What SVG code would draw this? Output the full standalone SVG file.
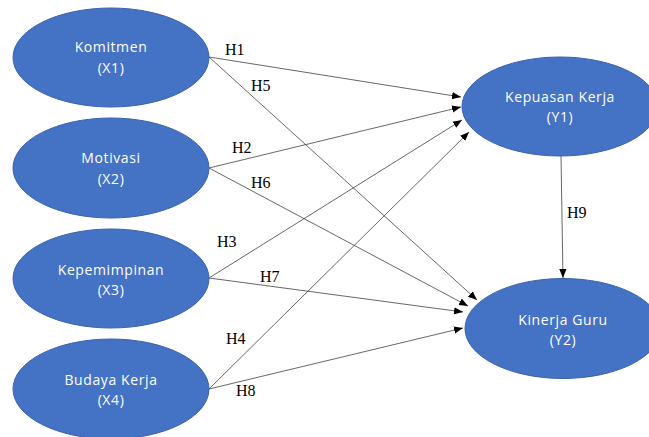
<svg xmlns="http://www.w3.org/2000/svg" width="649" height="437" viewBox="0 0 649 437">
<style>
.node ellipse{fill:#4472C4;stroke:#3A62AB;stroke-width:1}
.node text{fill:#FFFFFF;font-family:"Open Sans","Noto Sans",sans-serif;font-size:14px;text-anchor:middle;letter-spacing:0.6px}
.edges line{stroke:#404040;stroke-width:0.8;marker-end:url(#ah)}
.lbl{font-family:"Liberation Serif","Times New Roman",serif;font-size:16px;fill:#000}
</style>
<defs>
<marker id="ah" viewBox="0 0 10 10" refX="10" refY="5" markerWidth="9" markerHeight="9" markerUnits="userSpaceOnUse" orient="auto">
<path d="M0,1 L10,5 L0,9 Z" fill="#000"/>
</marker>
</defs>
<rect width="649" height="437" fill="#fff"/>
<g class="edges">
<line x1="209" y1="57" x2="461" y2="97"/>
<line x1="209" y1="57" x2="477" y2="300"/>
<line x1="209" y1="168" x2="461" y2="107"/>
<line x1="209" y1="168" x2="468" y2="306"/>
<line x1="209" y1="278" x2="462" y2="120"/>
<line x1="209" y1="278" x2="463" y2="312"/>
<line x1="209" y1="389" x2="469" y2="132"/>
<line x1="209" y1="389" x2="463" y2="328"/>
<line x1="561" y1="156" x2="563" y2="278"/>
</g>
<g id="komitmen" class="node"><ellipse cx="111" cy="57.5" rx="98" ry="49.5"/><text x="111" y="52">Komitmen</text><text x="111" y="73">(X1)</text></g>
<g id="motivasi" class="node"><ellipse cx="111" cy="168" rx="98" ry="50"/><text x="111" y="163">Motivasi</text><text x="111" y="184">(X2)</text></g>
<g id="kepemimpinan" class="node"><ellipse cx="111" cy="278.5" rx="98" ry="49.5"/><text x="111" y="275">Kepemimpinan</text><text x="111" y="295">(X3)</text></g>
<g id="budaya" class="node"><ellipse cx="111" cy="389" rx="98" ry="50"/><text x="111" y="385">Budaya Kerja</text><text x="111" y="405">(X4)</text></g>
<g id="kepuasan" class="node"><ellipse cx="560" cy="106.5" rx="98" ry="49.5"/><text x="560" y="102">Kepuasan Kerja</text><text x="560" y="122">(Y1)</text></g>
<g id="kinerja" class="node"><ellipse cx="563" cy="328.5" rx="98" ry="50"/><text x="563" y="325">Kinerja Guru</text><text x="563" y="345">(Y2)</text></g>
<g id="labels">
<text class="lbl" x="225" y="55">H1</text>
<text class="lbl" x="251" y="91">H5</text>
<text class="lbl" x="232" y="153">H2</text>
<text class="lbl" x="251" y="188">H6</text>
<text class="lbl" x="217" y="247">H3</text>
<text class="lbl" x="260" y="282">H7</text>
<text class="lbl" x="226" y="344">H4</text>
<text class="lbl" x="236" y="396">H8</text>
<text class="lbl" x="567" y="218">H9</text>
</g>
</svg>
